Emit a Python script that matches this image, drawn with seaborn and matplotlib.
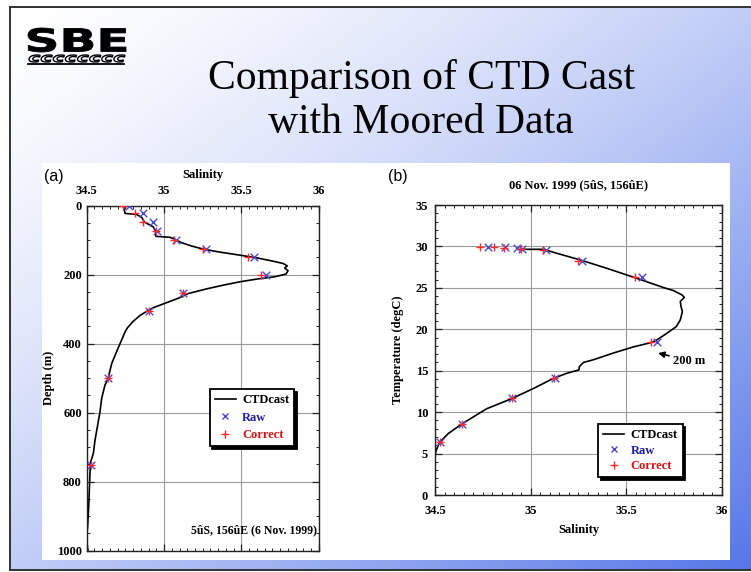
import numpy as np
import pandas as pd
import matplotlib
matplotlib.use("Agg")
import matplotlib.pyplot as plt
import seaborn as sns
from matplotlib.lines import Line2D
from matplotlib.patches import Rectangle, PathPatch
from matplotlib.textpath import TextPath
from matplotlib.font_manager import FontProperties
from matplotlib.transforms import Affine2D
from matplotlib.ticker import MultipleLocator

# ---------------- data ----------------
# (a) CTD cast: salinity vs depth
ctd_depth = [0, 22.4, 25.4, 34, 46.8, 61.5, 73.2, 88.8, 91.7, 97.6, 107.3, 117, 125.9,
             134.6, 143.4, 151.2, 161, 167.8, 174.6, 180.5, 188.3, 198, 205.9, 212.7,
             220.5, 230.2, 241, 254.6, 266.3, 281, 295.6, 307.3, 318, 334.6, 354.1,
             365.9, 389, 418, 457, 486, 500, 520, 558, 597, 641, 679, 718, 742, 776,
             824, 872, 930, 959, 979, 998]
ctd_sal = [34.737, 34.748, 34.823, 34.856, 34.871, 34.931, 34.944, 34.948, 35.039,
           35.071, 35.114, 35.179, 35.254, 35.362, 35.491, 35.599, 35.707, 35.772,
           35.797, 35.78, 35.802, 35.789, 35.718, 35.599, 35.491, 35.384, 35.276,
           35.157, 35.103, 35.017, 34.931, 34.884, 34.845, 34.802, 34.763, 34.748,
           34.726, 34.698, 34.662, 34.646, 34.640, 34.618, 34.597, 34.586, 34.569,
           34.554, 34.543, 34.526, 34.521, 34.517, 34.513, 34.506, 34.50, 34.50, 34.508]

# (b) CTD cast: T-S curve
ts_sal = [34.945, 35.067, 35.137, 35.259, 35.398, 35.555, 35.695, 35.747, 35.791,
          35.803, 35.782, 35.786, 35.793, 35.782, 35.761, 35.712, 35.66, 35.634,
          35.538, 35.433, 35.329, 35.276, 35.255, 35.252, 35.189, 35.119, 35.015,
          34.901, 34.770, 34.640, 34.570, 34.523, 34.505, 34.500]
ts_temp = [29.65, 29.65, 29.17, 28.37, 27.36, 26.15, 25.03, 24.67, 24.14, 23.86,
           23.34, 22.74, 22.13, 21.13, 20.32, 19.52, 18.72, 18.42, 17.88, 17.14,
           16.33, 16.0, 15.51, 15.1, 14.69, 14.08, 12.86, 11.63, 10.41, 8.57, 7.43,
           6.33, 5.31, 4.69]

# moored instruments
moor_depth = [0, 21, 47, 73, 98, 125, 149, 200, 253, 304, 500, 752]
raw_sal = [34.776, 34.866, 34.93, 34.957, 35.08, 35.27, 35.58, 35.66, 35.125, 34.905, 34.64, 34.526]
cor_sal = [34.737, 34.81, 34.862, 34.95, 35.065, 35.25, 35.545, 35.63, 35.12, 34.90, 34.64, 34.526]
moor_temp = [29.9, 29.9, 29.85, 29.75, 29.6, 28.25, 26.3, 18.45, 14.15, 11.65, 8.55, 6.35]

sal_ticks = [34.5, 35, 35.5, 36]
sal_tick_labels = ["34.5", "35", "35.5", "36"]
depth_ticks = [0, 200, 400, 600, 800, 1000]
temp_ticks = [0, 5, 10, 15, 20, 25, 30, 35]

# ---------------- style ----------------
W, H = 751, 572
SERIF = "Liberation Serif"
BLUE_MK = "#4a4ad0"
RED_MK = "#ff2a2a"
BLUE_TX = "#1c1ca0"
RED_TX = "#e01010"
GRID = "#9a9a9a"

plt.rcParams["font.family"] = [SERIF, "DejaVu Serif"]
plt.rcParams["font.weight"] = "bold"
plt.rcParams["axes.labelweight"] = "bold"
plt.rcParams["xtick.labelsize"] = 9
plt.rcParams["ytick.labelsize"] = 9

fig = plt.figure(figsize=(W / 100, H / 100), dpi=100)
fig.patch.set_facecolor("white")

# background layer in pixel coordinates (y measured from bottom)
bg = fig.add_axes([0, 0, 1, 1], zorder=-10)
bg.set_xlim(0, W)
bg.set_ylim(0, H)
bg.axis("off")


def Y(y):
    return H - y


# gradient slide
sx0, sy0, sx1, sy1 = 10, 7, W, 570
nx, ny = 300, 230
u = np.linspace(0, 1, nx)[None, :]
v = np.linspace(0, 1, ny)[:, None]
w = 0.93 * ((u + v) / 2.0) ** 1.45
base = np.array([72, 108, 230]) / 255.0
img = (1 - w[..., None]) * 1.0 + w[..., None] * base[None, None, :]
bg.imshow(img, extent=(sx0, sx1, Y(sy1), Y(sy0)), origin="upper", aspect="auto",
          interpolation="bilinear", zorder=0)
bg.plot([sx0, sx1], [Y(sy0), Y(sy0)], color="#333333", lw=1.4, zorder=2)
bg.plot([sx0, sx1], [Y(sy1), Y(sy1)], color="#333333", lw=1.4, zorder=2)
bg.plot([sx0, sx0], [Y(sy0), Y(sy1)], color="#333333", lw=1.4, zorder=2)

# white chart area
bg.add_patch(Rectangle((42, Y(560)), 730 - 42, 560 - 163, facecolor="white",
                       edgecolor="none", zorder=3))


# logo
def fit_text(s, prop, x0, x1, ytop, ybot, **kw):
    tp = TextPath((0, 0), s, size=1, prop=prop)
    ext = tp.get_extents()
    sx = (x1 - x0) / ext.width
    sy = (ybot - ytop) / ext.height
    tr = Affine2D().translate(-ext.x0, -ext.y0).scale(sx, sy).translate(x0, Y(ybot))
    bg.add_patch(PathPatch(tr.transform_path(tp), **kw))


fit_text("SBE", FontProperties(family="DejaVu Sans", weight="bold"), 28, 126, 28, 52,
         facecolor="black", edgecolor="black", lw=0.6, zorder=5)
fit_text("cccccccc", FontProperties(family="DejaVu Sans", weight="bold", style="italic"),
         29, 125, 55, 62, facecolor="white", edgecolor="black", lw=1.0, zorder=5)
bg.plot([28, 124], [Y(63.5), Y(63.5)], color="black", lw=1.3, zorder=5)

# title
bg.text(421, Y(78), "Comparison of CTD Cast", ha="center", va="center",
        family=SERIF, weight="normal", fontsize=30, color="black", zorder=5)
bg.text(421, Y(123), "with Moored Data", ha="center", va="center",
        family=SERIF, weight="normal", fontsize=30, color="black", zorder=5)

# panel letters
bg.text(44, Y(177), "(a)", ha="left", va="center", family="Liberation Sans",
        weight="normal", fontsize=11.5, zorder=5)
bg.text(388, Y(177), "(b)", ha="left", va="center", family="Liberation Sans",
        weight="normal", fontsize=11.5, zorder=5)

lab_font = dict(family=SERIF, weight="bold", size=9)


def style_axes(ax):
    ax.set_facecolor("white")
    for s in ax.spines.values():
        s.set_color("#222222")
        s.set_linewidth(1.0)
        s.set_visible(True)
    ax.grid(True, which="major", color=GRID, lw=0.8)
    ax.set_axisbelow(True)
    ax.tick_params(which="both", direction="in", top=True, bottom=True, left=True,
                   right=True, color="#222222")
    ax.tick_params(which="major", length=5, width=0.9)
    ax.tick_params(which="minor", length=2.5, width=0.7)


def make_legend(ax, anchor, spacing):
    handles = [
        Line2D([], [], color="black", lw=1.2, label="CTDcast"),
        Line2D([], [], ls="none", marker="x", color=BLUE_MK, ms=5, mew=1.0, label="Raw"),
        Line2D([], [], ls="none", marker="+", color=RED_MK, ms=6, mew=1.0, label="Correct"),
    ]
    leg = ax.legend(handles=handles, loc="upper left", bbox_to_anchor=anchor,
                    frameon=True, fancybox=False, shadow={"color": "black", "alpha": 1},
                    edgecolor="black", framealpha=1, borderaxespad=0,
                    prop=FontProperties(family=SERIF, weight="bold", size=9),
                    handlelength=1.7, handletextpad=0.5, borderpad=0.4,
                    labelspacing=spacing)
    leg.get_frame().set_linewidth(1.3)
    for t, c in zip(leg.get_texts(), ["black", BLUE_TX, RED_TX]):
        t.set_color(c)
    return leg


df_moor = pd.DataFrame({"depth": moor_depth, "raw": raw_sal, "cor": cor_sal, "temp": moor_temp})

# ---------------- panel (a) ----------------
ax1 = fig.add_axes([86.7 / W, 1 - 550.7 / H, 232 / W, 345 / H])
df_ctd = pd.DataFrame({"sal": ctd_sal, "depth": ctd_depth})
sns.lineplot(data=df_ctd, x="sal", y="depth", sort=False, estimator=None, color="black",
             lw=1.2, ax=ax1, orient="y", zorder=2)
sns.scatterplot(data=df_moor, x="raw", y="depth", marker="x", color=BLUE_MK, s=30,
                linewidth=1.0, ax=ax1, zorder=3)
sns.scatterplot(data=df_moor, x="cor", y="depth", marker="+", color=RED_MK, s=40,
                linewidth=1.0, ax=ax1, zorder=4)
ax1.set_xlim(34.5, 36)
ax1.set_ylim(1000, 0)
ax1.set_xticks(sal_ticks, sal_tick_labels)
ax1.xaxis.set_minor_locator(MultipleLocator(0.05))
ax1.set_yticks(depth_ticks, [str(d) for d in depth_ticks])
ax1.yaxis.set_minor_locator(MultipleLocator(50))
style_axes(ax1)
ax1.xaxis.tick_top()
ax1.tick_params(which="both", top=True, bottom=True, labeltop=True, labelbottom=False)
ax1.tick_params(axis="x", which="major", pad=6)
ax1.tick_params(axis="y", which="major", pad=3.5)
ax1.xaxis.set_label_position("top")
ax1.set_xlabel("Salinity", fontdict=lab_font, labelpad=5)
ax1.set_ylabel("Depth (m)", fontdict=lab_font, labelpad=1.5)
ax1.text(0.993, 0.058, "5ûS, 156ûE (6 Nov. 1999)", transform=ax1.transAxes,
         ha="right", va="center", family=SERIF, weight="bold", fontsize=8.5)
make_legend(ax1, (0.53, 0.469), 0.45)

# ---------------- panel (b) ----------------
ax2 = fig.add_axes([435 / W, 1 - 495 / H, 287 / W, 290 / H])
df_ts = pd.DataFrame({"sal": ts_sal, "temp": ts_temp})
sns.lineplot(data=df_ts, x="sal", y="temp", sort=False, estimator=None, color="black",
             lw=1.2, ax=ax2, zorder=2)
sns.scatterplot(data=df_moor, x="raw", y="temp", marker="x", color=BLUE_MK, s=30,
                linewidth=1.0, ax=ax2, zorder=3)
sns.scatterplot(data=df_moor, x="cor", y="temp", marker="+", color=RED_MK, s=40,
                linewidth=1.0, ax=ax2, zorder=4)
ax2.set_xlim(34.5, 36)
ax2.set_ylim(0, 35)
ax2.set_xticks(sal_ticks, sal_tick_labels)
ax2.xaxis.set_minor_locator(MultipleLocator(0.05))
ax2.set_yticks(temp_ticks, [str(t) for t in temp_ticks])
ax2.yaxis.set_minor_locator(MultipleLocator(1))
style_axes(ax2)
ax2.tick_params(axis="x", which="major", pad=7)
ax2.tick_params(axis="y", which="major", pad=5)
ax2.set_xlabel("Salinity", fontdict=lab_font, labelpad=5)
ax2.set_ylabel("Temperature (degC)", fontdict=lab_font, labelpad=8)
ax2.set_title("06 Nov. 1999 (5ûS, 156ûE)", family=SERIF, weight="bold", fontsize=9, pad=12)
ax2.annotate("200 m", xy=(35.659, 17.17), xytext=(35.745, 16.2), ha="left", va="center",
             family=SERIF, weight="bold", fontsize=9,
             arrowprops=dict(arrowstyle="-|>", color="black", lw=1.2, shrinkA=1, shrinkB=1,
                             mutation_scale=9))
make_legend(ax2, (0.568, 0.245), 0.3)

fig.savefig("out.png", dpi=100, facecolor="white")
